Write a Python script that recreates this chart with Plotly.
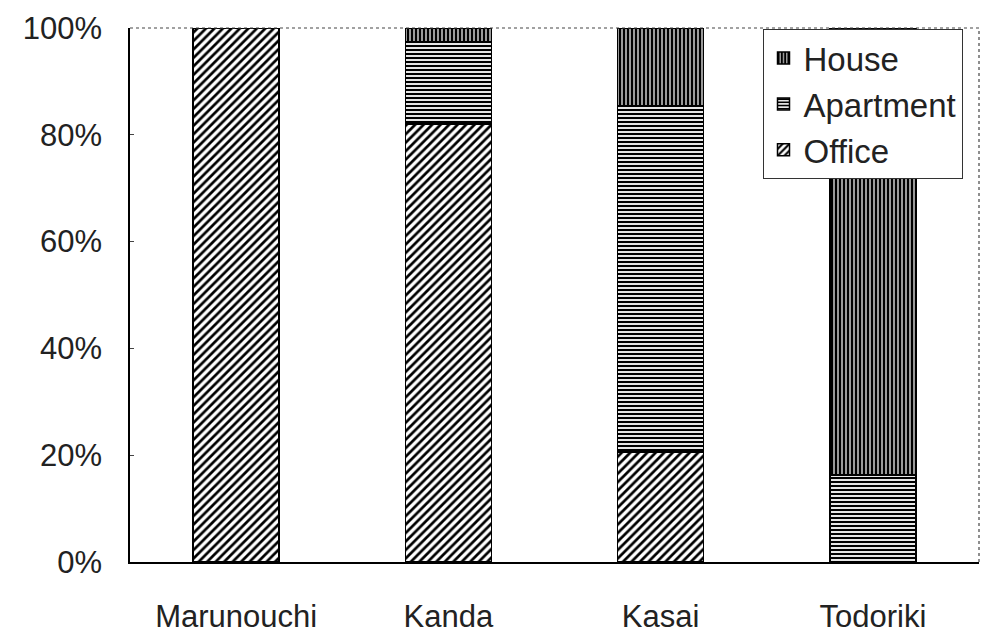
import plotly.graph_objects as go

categories = ["Marunouchi", "Kanda", "Kasai", "Todoriki"]
office = [100, 82, 20.6, 0]
apartment = [0, 15.4, 64.8, 16.3]
house = [0, 2.6, 14.6, 83.7]
y_ticks = [0, 20, 40, 60, 80, 100]
y_tick_labels = ["0%", "20%", "40%", "60%", "80%", "100%"]

FONT = "Liberation Sans, Arial, sans-serif"

fig = go.Figure()
series = [
    ("Office", office, dict(shape="/", size=6, solidity=0.45)),
    ("Apartment", apartment, dict(shape="-", size=4, solidity=0.55)),
    ("House", house, dict(shape="|", size=4, solidity=0.7)),
]
for name, vals, pat in series:
    fig.add_trace(go.Bar(
        x=categories, y=vals, name=name, legendgroup=name,
        marker=dict(
            color="white",
            line=dict(color="black", width=1.5),
            pattern=dict(fgcolor="black", bgcolor="white", fillmode="replace", **pat),
        ),
    ))

fig.update_layout(
    barmode="stack",
    bargap=0.595,
    width=983, height=634,
    margin=dict(l=130, r=4, t=28, b=72, autoexpand=False),
    paper_bgcolor="white", plot_bgcolor="white",
    font=dict(family=FONT, size=31, color="#222"),
    showlegend=True,
    legend=dict(
        x=0.745, y=0.998, xanchor="left", yanchor="top",
        bgcolor="white", bordercolor="#333", borderwidth=1,
        font=dict(family=FONT, size=33, color="#222"),
        tracegroupgap=21, traceorder="reversed",
    ),
    xaxis=dict(
        showline=True, linecolor="black", linewidth=1.5,
        showgrid=False, ticks="", ticklabelstandoff=26, automargin=False,
        tickfont=dict(family=FONT, size=31, color="#222"),
    ),
    yaxis=dict(
        range=[0, 100], tickvals=y_ticks, ticktext=y_tick_labels,
        showline=True, linecolor="black", linewidth=1.5,
        showgrid=False, zeroline=False, automargin=False,
        ticks="inside", ticklen=4, tickcolor="#444",
        ticklabelstandoff=20,
        tickfont=dict(family=FONT, size=31, color="#222"),
    ),
    shapes=[
        dict(type="line", xref="paper", yref="paper", x0=0, x1=1, y0=1, y1=1,
             line=dict(color="#444", width=1.2, dash="dot")),
        dict(type="line", xref="paper", yref="paper", x0=1, x1=1, y0=0, y1=1,
             line=dict(color="#444", width=1.2, dash="dot")),
    ],
)

fig.write_html(
    "out.html",
    config={"displayModeBar": False},
    post_script="document.body.style.margin='0';document.body.style.overflow='hidden';",
)
